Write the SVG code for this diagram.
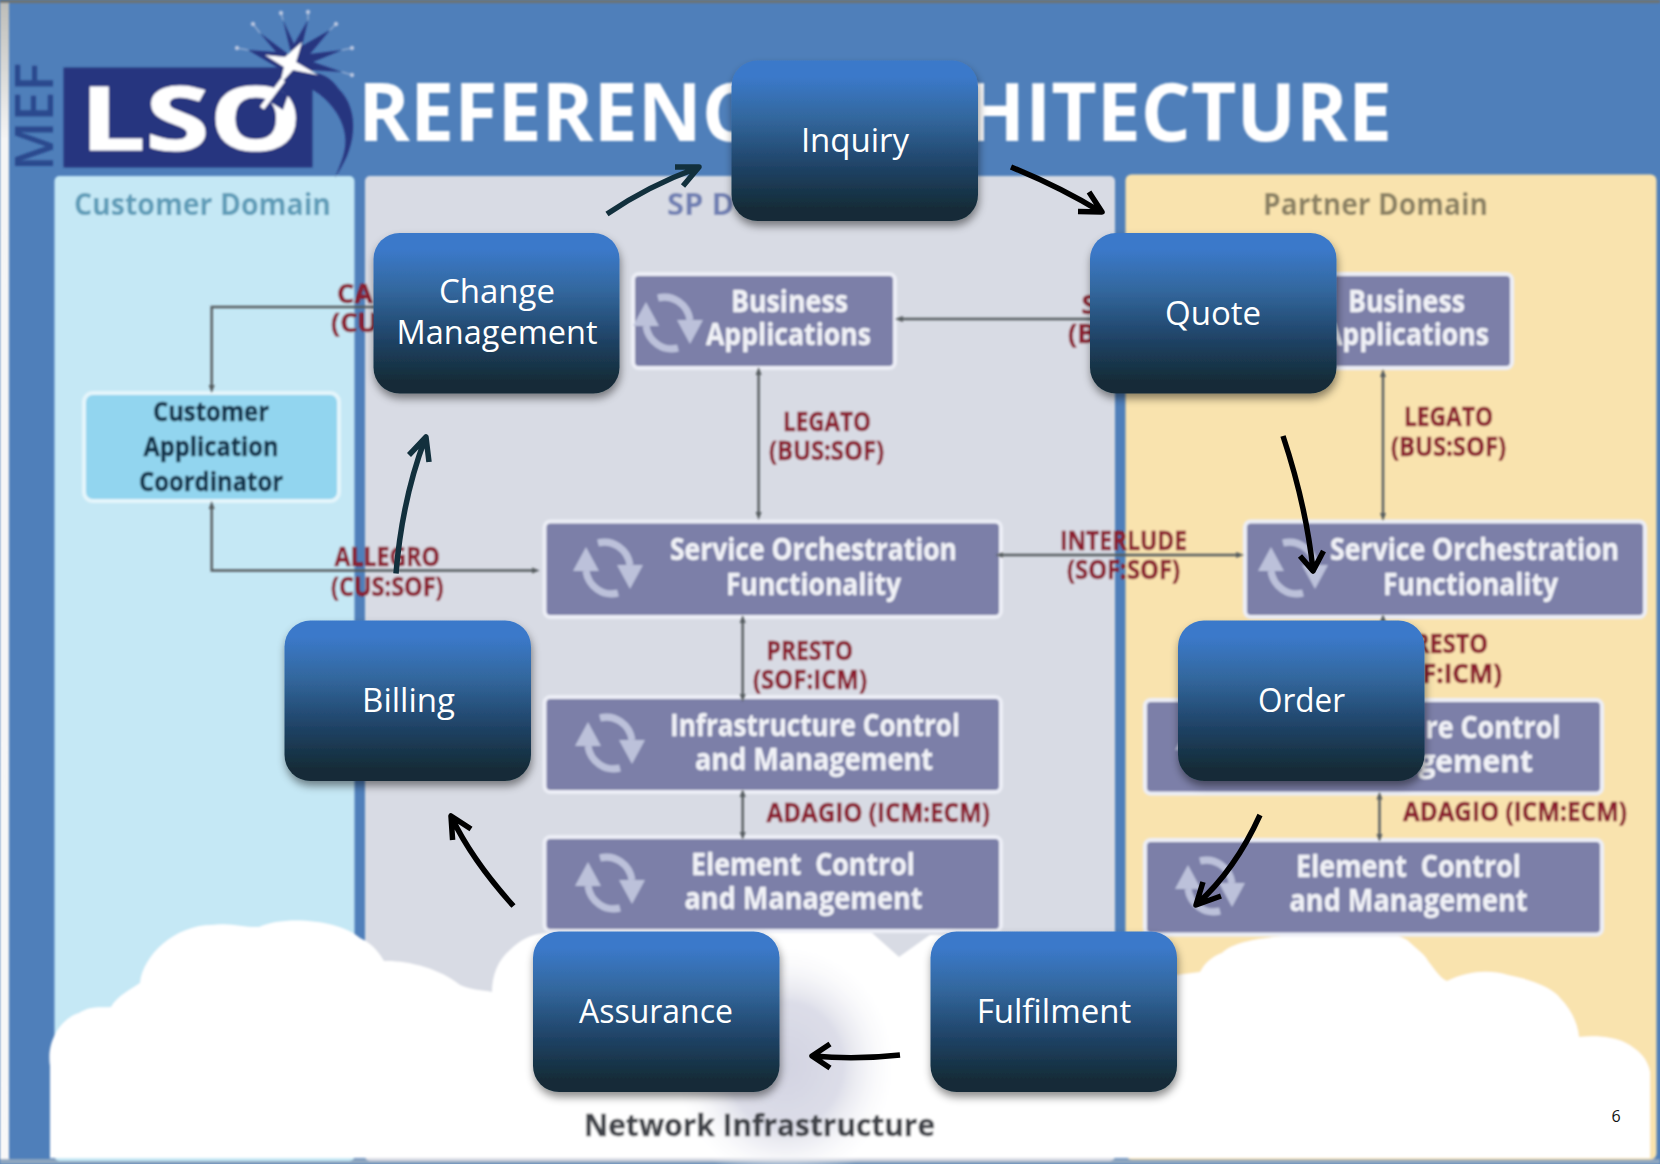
<svg xmlns="http://www.w3.org/2000/svg" width="1660" height="1164" viewBox="0 0 1660 1164">
<style>
text{font-family:"Open Sans","Liberation Sans",sans-serif}
.box{fill:#7b7fa8;stroke:#eceef6;stroke-width:4}
.bt{fill:#f1f2f7;font-weight:700;font-size:30px;stroke:#f1f2f7;stroke-width:.3}
.lb{fill:#8b1c2e;font-weight:700;font-size:27px;stroke:#8b1c2e;stroke-width:.5}
.dm{font-weight:700;font-size:31px}
.nt{fill:#fff;font-size:33px;text-anchor:middle}
.nd{fill:url(#ng);filter:url(#sh)}
.thin{fill:none;stroke:#555b5e;stroke-width:2.4;marker-start:url(#tm);marker-end:url(#tm)}
.thick{fill:none;stroke-width:5.500;stroke-linejoin:round}
.k{stroke:#000}
.t{stroke:#12303d}
</style>
<defs>
<linearGradient id="ng" x1="0" y1="0" x2="0" y2="1"><stop offset="0.1" stop-color="#3b79ca"/><stop offset="0.35" stop-color="#33689f"/><stop offset="0.65" stop-color="#204468"/><stop offset="0.92" stop-color="#142c38"/></linearGradient>
<radialGradient id="gl"><stop offset="0" stop-color="#d2d3e1"/><stop offset="0.5" stop-color="#dcdde8"/><stop offset="1" stop-color="#fff" stop-opacity="0"/></radialGradient>
<linearGradient id="strip" x1="0" y1="0" x2="0" y2="1"><stop offset="0" stop-color="#bcbcb8"/><stop offset="0.12" stop-color="#f5f5f5"/><stop offset="1" stop-color="#f8f8f8"/></linearGradient>
<filter id="sh" x="-10%" y="-10%" width="120%" height="125%"><feDropShadow dx="1" dy="5" stdDeviation="4" flood-color="#000" flood-opacity="0.45"/></filter>
<filter id="bl" x="-2%" y="-2%" width="104%" height="104%"><feGaussianBlur stdDeviation="0.9"/></filter>
<marker id="tm" markerWidth="8" markerHeight="8" refX="4" refY="4" orient="auto-start-reverse" markerUnits="userSpaceOnUse"><path d="M0 1L8 4L0 7Z" fill="#555b5e"/></marker>
<symbol id="cy" overflow="visible" viewBox="-40 -40 80 80" width="80" height="80">
<path d="M10 25A26 27 0 0 1-22 3M-10-25A26 27 0 0 1 22-3" fill="none" stroke="#bcc1da" stroke-width="7"/>
<path d="M-35 3H-9L-22-21ZM35-3H9L22 21Z" fill="#bcc1da"/>
</symbol>
</defs>
<rect width="1660" height="1164" fill="#4f7fba"/>
<g id="backdrop" filter="url(#bl)">
<rect x="0" y="0" width="9" height="1164" fill="url(#strip)"/>
<rect x="0" y="0" width="1660" height="3" fill="#6f7270"/>
<rect x="0" y="1159" width="1660" height="5" fill="#8ea6bf"/>
<g id="customer-domain"><rect x="54.500" y="176" width="300" height="985" rx="5" fill="#c5e8f5"/><text class="dm" x="74" y="215" fill="#5f9cb8" textLength="257" lengthAdjust="spacingAndGlyphs">Customer Domain</text></g>
<g id="sp-domain"><rect x="365" y="176" width="750" height="985" rx="5" fill="#d8dbe4"/><text class="dm" x="667" y="215" fill="#6f7fb2">SP D</text></g>
<g id="partner-domain"><rect x="1125.500" y="174.500" width="531" height="985" rx="6" fill="#f9e3ae"/><text class="dm" x="1263" y="215" fill="#8b8163" textLength="225" lengthAdjust="spacingAndGlyphs">Partner Domain</text></g>
<g id="cloud"><path d="M50 1158V1066C46 1040 62 1018 79 1013C92 1005 100 1008 111 1007C118 995 130 990 140 983C143 955 175 925 212 925C230 922 245 928 259 927C285 915 340 920 360 938C375 945 380 955 384 961C405 960 440 968 460 985C472 990 482 990 492 992C492 975 498 960 510 950C520 940 530 935 545 933H872L899 957L930 935H1160V975H1177L1200 972C1205 962 1215 955 1222 953C1235 940 1270 935 1333 934C1375 928 1400 935 1407 940C1418 950 1425 955 1428 961C1435 970 1440 978 1447 981C1470 970 1490 970 1508 975C1535 980 1555 990 1560 998C1572 1010 1578 1025 1579 1037C1600 1035 1615 1038 1624 1042C1640 1050 1648 1060 1650 1072V1158Z" fill="#fff"/>
<ellipse cx="785" cy="1065" rx="115" ry="125" fill="url(#gl)"/></g>
<g id="logo">
<text x="0" y="0" transform="translate(53 171) rotate(-90)" fill="#2b4a8e" font-size="52" font-weight="600" textLength="108" lengthAdjust="spacingAndGlyphs">MEF</text>
<rect x="63.500" y="67.500" width="249" height="100" fill="#27367f"/>
<g stroke="#9fb4d6" stroke-width="1.500" opacity=".8"><path d="M283 20L281 13M308 20L308 12M330 30L336 24M342 50L352 48M342 72L352 75M248 50L237 48M260 33L253 24"/></g>
<path d="M292 57L283 20L294 44L308 20L302 46L330 30L310 54L342 50L313 62L342 72L310 70L285 72L248 50L276 52L260 33Z" fill="#27367f"/>
<g fill="#b9c6e0"><circle cx="253" cy="24" r="2.200"/><circle cx="281" cy="13" r="2.200"/><circle cx="308" cy="12" r="2.200"/><circle cx="336" cy="24" r="2.200"/><circle cx="352" cy="48" r="2.200"/><circle cx="352" cy="75" r="2.200"/><circle cx="237" cy="48" r="2.200"/></g>
<path d="M300 73C315 70 330 75 338 88C350 100 354 115 353 130C352 150 343 165 335 178C342 160 347 150 345 135C343 118 330 100 313 90L296 88Z" fill="#27367f"/>
<text x="80" y="150" fill="#fff" font-size="88" font-weight="700" textLength="222" lengthAdjust="spacingAndGlyphs" stroke="#fff" stroke-width="1">LSO</text>
<path d="M267 100L277 88L288 95L283 110Z" fill="#27367f"/>
<path d="M262 108L283 80" stroke="#fff" stroke-width="5"/>
<path d="M302 42L296 62L318 75L293 70L280 84L284 67L265 55L285 57Z" fill="#fff"/>
</g>
<g id="title" fill="#fff" font-size="80" font-weight="700">
<text x="358" y="141" textLength="394" lengthAdjust="spacingAndGlyphs">REFERENC</text>
<text x="965" y="141" textLength="427" lengthAdjust="spacingAndGlyphs">HITECTURE</text>
</g>
<g id="cac"><rect x="84" y="393" width="255" height="108" rx="9" fill="#92d5ef" stroke="#e4f5fb" stroke-width="4"/>
<g fill="#10304a" stroke="#10304a" stroke-width=".5" font-size="27" font-weight="700" text-anchor="middle"><text x="211" y="421" textLength="116" lengthAdjust="spacingAndGlyphs">Customer</text><text x="211" y="456" textLength="135" lengthAdjust="spacingAndGlyphs">Application</text><text x="211" y="491" textLength="144" lengthAdjust="spacingAndGlyphs">Coordinator</text></g></g>
<g id="sp-bus"><rect class="box" x="633" y="274" width="262" height="94" rx="6"/><use href="#cy" x="628" y="283"/><text class="bt" x="731" y="312" textLength="117" lengthAdjust="spacingAndGlyphs">Business</text><text class="bt" x="706" y="345" textLength="165" lengthAdjust="spacingAndGlyphs">Applications</text></g>
<g id="sp-sof"><rect class="box" x="544.500" y="521.500" width="456.500" height="95.500" rx="6"/><use href="#cy" x="568" y="528"/><text class="bt" x="670" y="560" textLength="287" lengthAdjust="spacingAndGlyphs">Service Orchestration</text><text class="bt" x="726" y="595" textLength="175" lengthAdjust="spacingAndGlyphs">Functionality</text></g>
<g id="sp-icm"><rect class="box" x="544.500" y="697" width="456.500" height="95" rx="6"/><use href="#cy" x="570" y="703"/><text class="bt" x="670" y="736" textLength="290" lengthAdjust="spacingAndGlyphs">Infrastructure Control</text><text class="bt" x="695" y="769.500" textLength="238" lengthAdjust="spacingAndGlyphs">and Management</text></g>
<g id="sp-ecm"><rect class="box" x="544.500" y="837" width="456.500" height="94" rx="6"/><use href="#cy" x="570" y="843"/><text class="bt" x="691" y="875" textLength="224" lengthAdjust="spacingAndGlyphs" xml:space="preserve">Element  Control</text><text class="bt" x="684.500" y="908.700" textLength="238" lengthAdjust="spacingAndGlyphs">and Management</text></g>
<g id="pt-bus"><rect class="box" x="1250" y="274" width="262" height="94" rx="6"/><text class="bt" x="1348" y="312" textLength="117" lengthAdjust="spacingAndGlyphs">Business</text><text class="bt" x="1324" y="345" textLength="165" lengthAdjust="spacingAndGlyphs">Applications</text></g>
<g id="pt-sof"><rect class="box" x="1245" y="521.500" width="400" height="95.500" rx="6"/><use href="#cy" x="1253" y="528"/><text class="bt" x="1330" y="560" textLength="289" lengthAdjust="spacingAndGlyphs">Service Orchestration</text><text class="bt" x="1383" y="595" textLength="175" lengthAdjust="spacingAndGlyphs">Functionality</text></g>
<g id="pt-icm"><rect class="box" x="1145" y="700" width="457" height="93.500" rx="6"/><use href="#cy" x="1170" y="707"/><text class="bt" x="1425.500" y="738" textLength="135" lengthAdjust="spacingAndGlyphs">re Control</text><text class="bt" x="1533" y="772" text-anchor="end">agement</text></g>
<g id="pt-ecm"><rect class="box" x="1145" y="840" width="457" height="94.500" rx="6"/><use href="#cy" x="1170" y="846"/><text class="bt" x="1296" y="877" textLength="225" lengthAdjust="spacingAndGlyphs" xml:space="preserve">Element  Control</text><text class="bt" x="1289.500" y="911" textLength="238" lengthAdjust="spacingAndGlyphs">and Management</text></g>
<g id="labels">
<text class="lb" x="337" y="302.500">CAN</text><text class="lb" x="331" y="332">(CUS</text>
<text class="lb" x="1081.500" y="313.600">S</text><text class="lb" x="1068" y="343">(B</text>
<text class="lb" x="783" y="430.500" textLength="88" lengthAdjust="spacingAndGlyphs">LEGATO</text><text class="lb" x="769" y="460" textLength="115" lengthAdjust="spacingAndGlyphs">(BUS:SOF)</text>
<text class="lb" x="1404" y="426" textLength="89" lengthAdjust="spacingAndGlyphs">LEGATO</text><text class="lb" x="1391" y="456" textLength="115" lengthAdjust="spacingAndGlyphs">(BUS:SOF)</text>
<text class="lb" x="1060" y="550" textLength="127" lengthAdjust="spacingAndGlyphs">INTERLUDE</text><text class="lb" x="1067" y="579" textLength="113" lengthAdjust="spacingAndGlyphs">(SOF:SOF)</text>
<text class="lb" x="334.500" y="566" textLength="105.500" lengthAdjust="spacingAndGlyphs">ALLEGRO</text><text class="lb" x="331" y="596" textLength="112.500" lengthAdjust="spacingAndGlyphs">(CUS:SOF)</text>
<text class="lb" x="766.500" y="660" textLength="86.500" lengthAdjust="spacingAndGlyphs">PRESTO</text><text class="lb" x="753" y="689" textLength="114" lengthAdjust="spacingAndGlyphs">(SOF:ICM)</text>
<text class="lb" x="766.500" y="822" textLength="223.500" lengthAdjust="spacingAndGlyphs">ADAGIO (ICM:ECM)</text>
<text class="lb" x="1414" y="653" textLength="74" lengthAdjust="spacingAndGlyphs">RESTO</text><text class="lb" x="1422" y="683" textLength="80" lengthAdjust="spacingAndGlyphs">F:ICM)</text>
<text class="lb" x="1403" y="821" textLength="224" lengthAdjust="spacingAndGlyphs">ADAGIO (ICM:ECM)</text>
</g>
<text id="network" x="584" y="1136" fill="#404348" stroke="#404348" stroke-width=".4" font-size="31" font-weight="700" textLength="351" lengthAdjust="spacingAndGlyphs">Network Infrastructure</text>
</g>
<text id="page" x="1616" y="1122" fill="#111" font-size="16" text-anchor="middle">6</text>
<g id="connectors">
<g filter="url(#bl)">
<path class="thin" style="marker-start:none" d="M380 307H211.700V389"/>
<path class="thin" d="M211.700 505V570.500H535.700"/>
<path class="thin" style="marker-start:none" d="M1095 319H899"/>
<path class="thin" d="M758.600 371V516"/>
<path class="thin" d="M999.400 555H1240"/>
<path class="thin" d="M1383 373V517"/>
<path class="thin" d="M742.700 619V698"/>
<path class="thin" d="M742.700 793V836"/>
<path class="thin" d="M1379.500 795.500V838"/>
<path class="thin" style="marker-end:none" d="M1383 618V625"/>
</g>
<path class="thick t" d="M607 214Q648 186 697 168M675 167L699 167L683 186"/>
<path class="thick k" d="M1011 167Q1060 187 1101 212M1089 192L1102 212L1078 211.500"/>
<path class="thick k" d="M1283 436Q1306 505 1313 570M1300 556L1313 571L1323.500 551"/>
<path class="thick k" d="M1260 815Q1235 870 1197 904M1203 882L1196 905L1221 896"/>
<path class="thick k" d="M900 1055Q855 1060 813 1056M830 1044L812 1056L830 1068"/>
<path class="thick k" d="M513.500 906Q472 860 452 818M471 829L451 816L452.600 840"/>
<path class="thick t" d="M396 573.500Q402 500 425 439M409 455L426 437L429 462"/>
</g>
<g id="inquiry"><rect class="nd" x="731.500" y="60.500" width="246.500" height="160.500" rx="26"/><text class="nt" x="855" y="151.500">Inquiry</text></g>
<g id="quote"><rect class="nd" x="1090" y="233" width="246.500" height="160.500" rx="26"/><text class="nt" x="1213" y="324.500">Quote</text></g>
<g id="order"><rect class="nd" x="1178" y="620.500" width="246.500" height="160.500" rx="26"/><text class="nt" x="1301.500" y="712" textLength="87" lengthAdjust="spacingAndGlyphs">Order</text></g>
<g id="fulfilment"><rect class="nd" x="930.500" y="931.500" width="246.500" height="160.500" rx="26"/><text class="nt" x="1054" y="1023">Fulfilment</text></g>
<g id="assurance"><rect class="nd" x="533" y="931.500" width="246.500" height="160.500" rx="26"/><text class="nt" x="656" y="1023" textLength="154" lengthAdjust="spacingAndGlyphs">Assurance</text></g>
<g id="billing"><rect class="nd" x="284.500" y="620.500" width="246.500" height="160.500" rx="26"/><text class="nt" x="408.500" y="712">Billing</text></g>
<g id="change-management"><rect class="nd" x="373.500" y="233" width="246" height="160.500" rx="26"/><text class="nt" x="497" y="303">Change</text><text class="nt" x="497" y="344" textLength="201" lengthAdjust="spacingAndGlyphs">Management</text></g>
</svg>
